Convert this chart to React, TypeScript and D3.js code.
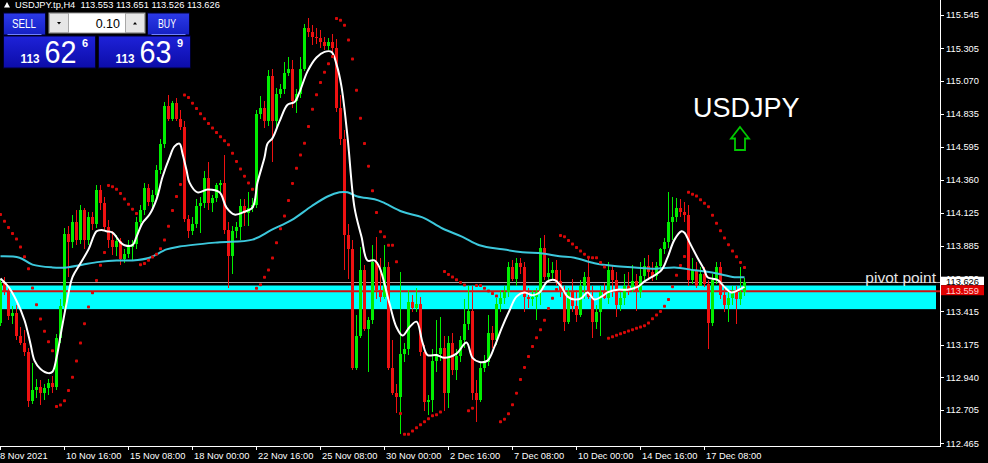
import * as d3 from "d3";

// ---- chart data (USDJPY H4) ----
const symbol = "USDJPY.tp,H4";

const opens = [
  113.33, 113.62, 113.55, 113.38, 113.40, 113.24, 113.19, 113.12, 112.77, 112.85,
  112.87, 112.83, 112.86, 112.90, 112.87, 113.22, 113.45, 113.97, 113.91, 114.06,
  113.93, 114.14, 113.93, 114.09, 114.04, 114.29, 114.19, 114.02, 113.93, 113.88,
  113.92, 113.79, 113.83, 113.88, 113.90, 114.06, 114.14, 114.30, 114.20, 114.25,
  114.43, 114.62, 114.89, 114.80, 114.91, 114.80, 114.74, 114.08, 113.99, 114.04,
  114.17, 114.19, 114.37, 114.19, 114.23, 114.32, 114.34, 114.00, 113.81, 113.99,
  114.02, 114.17, 114.12, 114.16, 114.18, 114.83, 114.88, 114.78, 115.11, 114.78,
  114.98, 115.01, 115.13, 115.16, 114.93, 114.98, 115.16, 115.45, 115.42, 115.39,
  115.38, 115.35, 115.32, 115.35, 115.31, 114.88, 114.65, 113.96, 113.86, 113.01,
  113.24, 113.71, 113.29, 113.35, 113.77, 113.57, 113.52, 113.73, 113.01, 112.83,
  112.80, 113.11, 113.14, 113.48, 113.44, 113.47, 113.12, 112.76, 112.78, 113.06,
  113.11, 113.15, 112.83, 113.19, 112.99, 113.09, 113.21, 113.32, 113.42, 112.83,
  112.78, 113.01, 113.05, 113.26, 113.21, 113.47, 113.51, 113.55, 113.73, 113.65,
  113.76, 113.73, 113.52, 113.50, 113.52, 113.55, 113.87, 113.66, 113.69, 113.71,
  113.63, 113.55, 113.34, 113.55, 113.45, 113.39, 113.60, 113.66, 113.52, 113.34,
  113.41, 113.55, 113.51, 113.71, 113.64, 113.46, 113.51, 113.60, 113.57, 113.63,
  113.55, 113.67, 113.74, 113.70, 113.67, 113.74, 113.86, 113.91, 114.06, 114.09,
  114.16, 114.13, 114.11, 113.64, 113.71, 113.60, 113.68, 113.61, 113.33, 113.64,
  113.73, 113.53, 113.46, 113.51, 113.55, 113.50, 113.553,
];

const highs = [
  113.65, 113.66, 113.58, 113.45, 113.46, 113.30, 113.28, 113.15, 113.04, 112.93,
  112.92, 112.89, 112.93, 112.95, 113.25, 113.50, 114.01, 114.03, 114.11, 114.14,
  114.18, 114.16, 114.13, 114.13, 114.32, 114.32, 114.24, 114.07, 113.99, 113.96,
  113.94, 113.86, 113.93, 113.93, 114.09, 114.18, 114.34, 114.33, 114.29, 114.47,
  114.65, 114.92, 114.97, 114.93, 114.95, 114.86, 114.78, 114.11, 114.09, 114.22,
  114.24, 114.42, 114.49, 114.25, 114.34, 114.36, 114.54, 114.06, 114.03, 114.06,
  114.22, 114.22, 114.27, 114.23, 114.86, 114.96, 114.93, 115.15, 115.16, 115.02,
  115.05, 115.21, 115.24, 115.22, 115.01, 115.24, 115.48, 115.52, 115.47, 115.45,
  115.44, 115.39, 115.38, 115.41, 115.37, 114.97, 114.72, 114.04, 113.93, 113.39,
  113.88, 113.75, 113.37, 113.89, 113.95, 113.80, 113.89, 113.77, 113.21, 112.89,
  113.70, 113.19, 113.57, 113.53, 113.58, 113.52, 113.17, 112.81, 113.14, 113.35,
  113.37, 113.24, 113.24, 113.26, 113.14, 113.24, 113.50, 113.60, 113.60, 112.92,
  113.05, 113.10, 113.39, 113.31, 113.51, 113.57, 113.60, 113.77, 113.78, 113.80,
  113.80, 113.77, 113.58, 113.57, 113.58, 113.94, 113.96, 113.80, 113.77, 113.78,
  113.71, 113.60, 113.58, 113.65, 113.57, 113.64, 113.70, 113.80, 113.60, 113.46,
  113.60, 113.62, 113.77, 113.75, 113.70, 113.55, 113.68, 113.70, 113.75, 113.68,
  113.77, 113.80, 113.82, 113.77, 113.77, 113.87, 113.94, 114.27, 114.24, 114.23,
  114.22, 114.20, 114.18, 113.80, 113.77, 113.73, 113.73, 113.64, 113.68, 113.77,
  113.77, 113.60, 113.57, 113.60, 113.60, 113.73, 113.651,
];

const lows = [
  113.31, 113.53, 113.35, 113.32, 113.21, 113.17, 113.09, 112.73, 112.75, 112.79,
  112.74, 112.78, 112.81, 112.83, 112.85, 113.19, 113.41, 113.66, 113.87, 113.89,
  113.90, 113.86, 113.89, 114.00, 114.01, 114.14, 113.99, 113.87, 113.82, 113.81,
  113.75, 113.76, 113.80, 113.78, 113.86, 114.03, 114.11, 114.17, 114.16, 114.22,
  114.40, 114.59, 114.78, 114.78, 114.78, 114.72, 114.06, 113.94, 113.96, 114.01,
  113.98, 114.16, 114.14, 114.13, 114.20, 114.27, 113.97, 113.58, 113.68, 113.94,
  113.93, 114.03, 114.03, 114.13, 114.16, 114.80, 114.73, 114.75, 114.49, 114.73,
  114.95, 114.98, 115.11, 114.88, 114.84, 114.95, 115.14, 115.39, 115.33, 115.34,
  115.31, 115.29, 115.29, 115.28, 114.85, 114.61, 113.71, 113.65, 112.99, 112.99,
  113.22, 113.27, 112.98, 113.32, 113.50, 113.48, 113.50, 112.99, 112.81, 112.68,
  112.53, 113.05, 113.10, 113.41, 113.41, 113.09, 112.70, 112.67, 112.69, 112.98,
  113.06, 112.70, 112.72, 112.96, 112.92, 113.05, 113.15, 113.28, 112.78, 112.62,
  112.76, 112.98, 113.02, 113.15, 113.17, 113.41, 113.47, 113.52, 113.63, 113.60,
  113.68, 113.41, 113.44, 113.45, 113.35, 113.46, 113.64, 113.63, 113.64, 113.60,
  113.52, 113.27, 113.32, 113.41, 113.34, 113.37, 113.50, 113.50, 113.22, 113.29,
  113.24, 113.50, 113.47, 113.52, 113.37, 113.42, 113.46, 113.53, 113.55, 113.42,
  113.51, 113.64, 113.65, 113.63, 113.64, 113.70, 113.83, 113.87, 113.93, 114.06,
  114.09, 114.06, 113.60, 113.61, 113.58, 113.60, 113.59, 113.14, 113.31, 113.61,
  113.50, 113.41, 113.34, 113.46, 113.32, 113.46, 113.526,
];

const closes = [
  113.62, 113.55, 113.38, 113.40, 113.24, 113.19, 113.12, 112.77, 112.85, 112.87,
  112.83, 112.86, 112.90, 112.87, 113.22, 113.45, 113.97, 113.91, 114.06, 113.93,
  114.14, 113.93, 114.09, 114.04, 114.29, 114.19, 114.02, 113.93, 113.88, 113.92,
  113.79, 113.83, 113.88, 113.90, 114.06, 114.14, 114.30, 114.20, 114.25, 114.43,
  114.62, 114.89, 114.80, 114.91, 114.80, 114.74, 114.08, 113.99, 114.04, 114.17,
  114.19, 114.37, 114.19, 114.23, 114.32, 114.34, 114.00, 113.81, 113.99, 114.02,
  114.17, 114.12, 114.16, 114.18, 114.83, 114.88, 114.78, 115.11, 114.78, 114.98,
  115.01, 115.13, 115.16, 114.93, 114.98, 115.16, 115.45, 115.42, 115.39, 115.38,
  115.35, 115.32, 115.35, 115.31, 114.88, 114.65, 113.96, 113.86, 113.01, 113.24,
  113.71, 113.29, 113.35, 113.77, 113.57, 113.52, 113.73, 113.01, 112.83, 112.80,
  113.11, 113.14, 113.48, 113.44, 113.47, 113.12, 112.76, 112.78, 113.06, 113.11,
  113.15, 112.83, 113.19, 112.99, 113.09, 113.21, 113.32, 113.42, 112.83, 112.78,
  113.01, 113.05, 113.26, 113.21, 113.47, 113.51, 113.55, 113.73, 113.65, 113.76,
  113.73, 113.52, 113.50, 113.52, 113.55, 113.87, 113.66, 113.69, 113.71, 113.63,
  113.55, 113.34, 113.55, 113.45, 113.39, 113.60, 113.66, 113.52, 113.34, 113.41,
  113.55, 113.51, 113.71, 113.64, 113.46, 113.51, 113.60, 113.57, 113.63, 113.55,
  113.67, 113.74, 113.70, 113.67, 113.74, 113.86, 113.91, 114.06, 114.09, 114.16,
  114.13, 114.11, 113.64, 113.71, 113.60, 113.68, 113.61, 113.33, 113.64, 113.73,
  113.53, 113.46, 113.51, 113.55, 113.50, 113.55, 113.626,
];

// short moving average (white), read as [bar, price]
const fastMa: [number, number][] = [
  [0, 113.65], [2, 113.59], [4, 113.49], [6, 113.35], [7.5, 113.18], [8.5, 113.06], [10, 113.0], [12, 112.97],
  [13, 112.98], [14, 113.08], [15.25, 113.28], [16.5, 113.47], [18, 113.66], [20, 113.76], [22, 113.86],
  [24, 113.99], [25.25, 114.0], [26.5, 113.99], [28, 113.98], [30, 113.91], [31, 113.89], [33, 113.89],
  [34, 113.95], [35.5, 114.05], [37.25, 114.11], [39, 114.22], [40.5, 114.38], [42.25, 114.52], [43.5, 114.6],
  [44.75, 114.62], [45.5, 114.55], [46.5, 114.43], [47.25, 114.34], [49.25, 114.27], [51.75, 114.29],
  [54.75, 114.27], [56.5, 114.16], [58.5, 114.11], [61, 114.13], [63, 114.16], [64.25, 114.34], [66, 114.52],
  [66.75, 114.62], [68, 114.66], [69.75, 114.78], [71.75, 114.9], [73.5, 114.92], [74.75, 114.99],
  [76.75, 115.14], [79, 115.24], [81, 115.28], [82.75, 115.28], [84, 115.19], [85.25, 115.03], [86.75, 114.67],
  [88.5, 114.16], [90.25, 113.95], [91.75, 113.78], [93.5, 113.78], [94.75, 113.73], [97.25, 113.47],
  [99, 113.3], [100.5, 113.24], [102.25, 113.3], [104, 113.34], [105.5, 113.19], [106.75, 113.1], [109, 113.1],
  [111, 113.08], [114, 113.11], [116.5, 113.19], [118, 113.08], [119.75, 113.05], [121.75, 113.06],
  [123.5, 113.16], [125.25, 113.29], [127.25, 113.42], [129, 113.52], [131, 113.55], [133, 113.53],
  [134.75, 113.55], [136.75, 113.63], [138.5, 113.64], [140.25, 113.59], [141.75, 113.52], [143.5, 113.5],
  [145.25, 113.51], [146.75, 113.55], [148.5, 113.5], [150.25, 113.52], [151.75, 113.55], [154.25, 113.57],
  [156.75, 113.57], [159.25, 113.59], [161, 113.63], [162.75, 113.66], [165.25, 113.71], [166.75, 113.8],
  [168.5, 113.93], [170.25, 113.99], [171, 113.98], [172.25, 113.91], [174.25, 113.8], [176, 113.71],
  [176.75, 113.66], [179.25, 113.64], [181, 113.59], [182.75, 113.55], [185.25, 113.58], [186, 113.59],
];

// long moving average (cyan), read as [bar, price]
const slowMa: [number, number][] = [
  [0, 113.81], [4.75, 113.8], [8, 113.75], [13, 113.73], [16.5, 113.73], [20.5, 113.75], [24.75, 113.77],
  [29, 113.78], [33, 113.78], [37.25, 113.8], [41.5, 113.86], [44.75, 113.88], [54.25, 113.91], [63, 113.93],
  [67.75, 114.0], [72.75, 114.07], [77.75, 114.17], [81.75, 114.24], [84.75, 114.27], [86.75, 114.27],
  [89.25, 114.24], [93.5, 114.22], [95.5, 114.2], [100.5, 114.13], [105.5, 114.09], [110.5, 114.01],
  [115.5, 113.95], [119.75, 113.89], [125.5, 113.86], [130.5, 113.84], [135.5, 113.83], [139.75, 113.81],
  [143.5, 113.8], [148.5, 113.76], [153.5, 113.74], [158.5, 113.73], [163.5, 113.72], [168.5, 113.73],
  [173.5, 113.71], [178.5, 113.69], [183.5, 113.66], [186, 113.66],
];

const dateTicks: [number, string][] = [
  [0, "8 Nov 2021"], [16, "10 Nov 16:00"], [32, "15 Nov 08:00"], [48, "18 Nov 00:00"],
  [64, "22 Nov 16:00"], [80, "25 Nov 08:00"], [96, "30 Nov 00:00"], [112, "2 Dec 16:00"],
  [128, "7 Dec 08:00"], [144, "10 Dec 00:00"], [160, "14 Dec 16:00"], [176, "17 Dec 08:00"],
];

const priceTicks = [
  115.545, 115.305, 115.07, 114.835, 114.595, 114.36, 114.125, 113.885,
  113.65, 113.415, 113.175, 112.94, 112.705, 112.465,
];

const pivotPrice = 113.559;
const pivotZone = [113.43, 113.6];
const askPrice = 113.639;
const lotSize = "0.10";
// parabolic SAR state at the first bar (downtrend coming into the window)
const sarStart = { up: false, sar: 114.11, ep: 113.31, af: 0.06 };

// ---- layout ----
const W = 988;
const H = 463;
const plotRight = 940;
const plotBottom = 446;
const font = "'Liberation Sans', Arial, sans-serif";

function parabolicSar(hi: number[], lo: number[], step = 0.02, max = 0.2) {
  let { up, sar, ep, af } = sarStart;
  const out = [sar];
  for (let i = 1; i < hi.length; i++) {
    let next = sar + af * (ep - sar);
    const p2 = i > 1 ? i - 2 : i - 1;
    if (up) {
      next = Math.min(next, lo[i - 1], lo[p2]);
      if (lo[i] < next) {
        up = false; next = ep; ep = lo[i]; af = step;
      } else if (hi[i] > ep) {
        ep = hi[i]; af = Math.min(af + step, max);
      }
    } else {
      next = Math.max(next, hi[i - 1], hi[p2]);
      if (hi[i] > next) {
        up = true; next = ep; ep = hi[i]; af = step;
      } else if (lo[i] < ep) {
        ep = lo[i]; af = Math.min(af + step, max);
      }
    }
    sar = next;
    out.push(sar);
  }
  return out;
}

const PricePanel = ({ x, price, label, labelX, btnX, btnW }: any) => {
  const s = price.toFixed(3);
  const big = s.slice(4, 6);
  const small = s.slice(6);
  return (
    <g>
      <rect x={btnX} y={13} width={btnW} height={22} fill="url(#btnGrad)" stroke="#000030" />
      <text x={labelX} y={28} fill="#fff" fontSize={12} fontFamily={font} textAnchor="middle"
        textLength={label.length * 6} lengthAdjust="spacingAndGlyphs">{label}</text>
      <line x1={btnX + 4} x2={btnX + btnW - 4} y1={34.5} y2={34.5} stroke="#7080ff" />
      <rect x={x} y={36} width={92} height={32} fill="url(#boxGrad)" stroke="#000030" />
      <text x={x + 17} y={63} fill="#fff" fontSize={13} fontWeight="bold" fontFamily={font}
        textLength={19} lengthAdjust="spacingAndGlyphs">{s.slice(0, 3)}</text>
      <text x={x + 41} y={63} fill="#fff" fontSize={32} fontFamily={font}
        textLength={32} lengthAdjust="spacingAndGlyphs">{big}</text>
      <text x={x + 78.5} y={47} fill="#fff" fontSize={11} fontWeight="bold" fontFamily={font}>{small}</text>
    </g>
  );
};

export default function App() {
  const n = closes.length;
  const x = d3.scaleLinear().domain([0, 235]).range([0.5, 940.5]);
  const y = d3.scaleLinear().domain([115.653, 112.446]).range([0, plotBottom]);
  const sar = parabolicSar(highs, lows);
  const bid = closes[n - 1];

  const line = d3.line<[number, number]>()
    .x(d => x(d[0]))
    .y(d => y(d[1]))
    .curve(d3.curveCatmullRom.alpha(0.5));

  const header = `${symbol}  ${opens[n - 1].toFixed(3)} ${highs[n - 1].toFixed(3)} ${lows[n - 1].toFixed(3)} ${bid.toFixed(3)}`;

  return (
    <div style={{ position: "absolute", left: 0, top: 0 }}>
      <svg width={W} height={H} style={{ display: "block" }}>
        <defs>
          <linearGradient id="btnGrad" x1="0" y1="0" x2="0" y2="1">
            <stop offset="0" stopColor="#2c3ae8" />
            <stop offset="1" stopColor="#1420c4" />
          </linearGradient>
          <linearGradient id="boxGrad" x1="0" y1="0" x2="0" y2="1">
            <stop offset="0" stopColor="#1e22d8" />
            <stop offset="1" stopColor="#0c0ca8" />
          </linearGradient>
        </defs>
        <rect width={W} height={H} fill="#000" />

        {/* pivot zone */}
        <rect x={0} y={y(pivotZone[1])} width={936} height={y(pivotZone[0]) - y(pivotZone[1])} fill="#00ffff" />
        <line x1={0} x2={plotRight} y1={Math.round(y(bid)) + 0.5} y2={Math.round(y(bid)) + 0.5} stroke="#a8a8a8" />
        <line x1={0} x2={plotRight} y1={y(pivotPrice)} y2={y(pivotPrice)} stroke="#d01010" strokeWidth={2} />

        {/* candles */}
        <g shapeRendering="crispEdges">
          {closes.map((c, i) => {
            const o = opens[i];
            const col = c >= o ? "#00ee00" : "#ee1111";
            const top = y(Math.max(o, c));
            const h = Math.max(1, y(Math.min(o, c)) - top);
            return (
              <g key={i}>
                <rect x={x(i) - 0.5} y={y(highs[i])} width={1} height={y(lows[i]) - y(highs[i])} fill={col} />
                <rect x={x(i) - 1.5} y={top} width={3} height={h} fill={col} />
              </g>
            );
          })}
        </g>

        <path d={line(slowMa) || ""} fill="none" stroke="#3cc8dc" strokeWidth={2} />
        <path d={line(fastMa) || ""} fill="none" stroke="#ffffff" strokeWidth={2} />

        {sar.map((s, i) => (
          <rect key={i} x={x(i) - 1.5} y={y(s) - 1.5} width={3} height={3} rx={0.8} fill="#d80808" />
        ))}

        <text x={936} y={283.3} textAnchor="end" fill="#e6e6e6" fontSize={15.5} fontFamily={font}>pivot point</text>

        <text x={693} y={117} fill="#fff" fontSize={27} fontFamily={font}>USDJPY</text>
        <path d="M740,127 L749,138.5 L745,138.5 L745,150 L735,150 L735,138.5 L731,138.5 Z"
          fill="none" stroke="#00c800" strokeWidth={1.8} />

        {/* price axis */}
        <line x1={plotRight + 0.5} x2={plotRight + 0.5} y1={0} y2={plotBottom} stroke="#fff" />
        {priceTicks.map(v => (
          <g key={v}>
            <line x1={plotRight} x2={plotRight + 4} y1={Math.round(y(v)) + 0.5} y2={Math.round(y(v)) + 0.5} stroke="#fff" />
            <text x={946} y={y(v) + 3.3} fill="#fff" fontSize={9.3} fontFamily={font}>{v.toFixed(3)}</text>
          </g>
        ))}
        <rect x={941} y={y(bid) - 5.2} width={43} height={8.4} fill="#fff" />
        <text x={946} y={y(bid) + 2.8} fill="#000" fontSize={9.3} fontFamily={font}>{bid.toFixed(3)}</text>
        <rect x={941} y={y(pivotPrice) - 6} width={43} height={10} fill="#e00000" />
        <text x={946} y={y(pivotPrice) + 3} fill="#ffd0d0" fontSize={9.3} fontFamily={font}>{pivotPrice.toFixed(3)}</text>

        {/* time axis */}
        <line x1={0} x2={plotRight + 1} y1={plotBottom + 0.5} y2={plotBottom + 0.5} stroke="#fff" />
        {dateTicks.map(([b, label]) => (
          <g key={b}>
            <line x1={x(b)} x2={x(b)} y1={plotBottom} y2={plotBottom + 4} stroke="#fff" />
            <text x={b === 0 ? 0 : x(b) + 1.5} y={459} fill="#fff" fontSize={9.3} fontFamily={font}>{label}</text>
          </g>
        ))}

        {/* header */}
        <path d="M4,7.5 L7,2 L10,7.5 Z" fill="#fff" />
        <text x={15} y={7.5} fill="#fff" fontSize={9.3} fontFamily={font} xmlSpace="preserve">{header}</text>

        {/* one-click trading panel */}
        <PricePanel x={3.5} price={bid} label="SELL" labelX={24} btnX={3.5} btnW={42} />
        <PricePanel x={98.5} price={askPrice} label="BUY" labelX={167} btnX={147.5} btnW={42} />
        <rect x={49} y={13} width={96} height={20} fill="#fff" stroke="#9a9a9a" />
        <rect x={49.5} y={13.5} width={19} height={19} fill="#e6e6e6" stroke="#a8a8a8" />
        <rect x={125.5} y={13.5} width={19} height={19} fill="#e6e6e6" stroke="#a8a8a8" />
        <path d="M57,22 L61,22 L59,24.5 Z" fill="#000" />
        <path d="M133,24.5 L137,24.5 L135,22 Z" fill="#000" />
        <text x={120} y={28} textAnchor="end" fill="#000" fontSize={12.5} fontFamily={font}>{lotSize}</text>
      </svg>
    </div>
  );
}
